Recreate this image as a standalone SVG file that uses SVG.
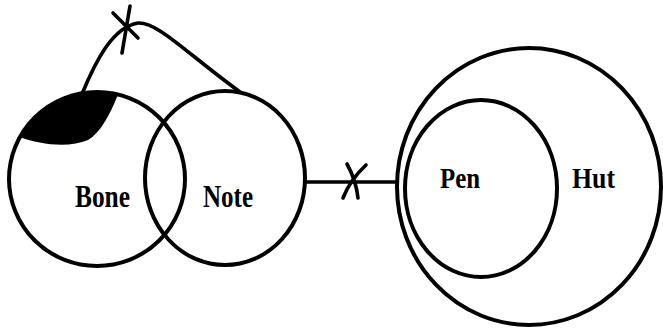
<svg xmlns="http://www.w3.org/2000/svg" width="663" height="331" viewBox="0 0 663 331">
<style>
.c{fill:none;stroke:#000;stroke-width:4}
.l{fill:none;stroke:#000;stroke-width:3.6;stroke-linecap:round}
.t{font-family:"Liberation Serif","Times New Roman",serif;font-weight:bold;fill:#000}
</style>
<rect width="663" height="331" fill="#fff"/>
<g id="bone">
<path d="M20,137 C40,145 70,148 88,140 C100,133 110,115 118,94.5 A88 87 0 0 0 20,137 Z" fill="#000"/>
<ellipse class="c" cx="97" cy="179" rx="88" ry="87"/>
<text class="t" x="75" y="207" font-size="32" textLength="55" lengthAdjust="spacingAndGlyphs">Bone</text>
</g>
<g id="note">
<ellipse class="c" cx="225" cy="178" rx="80" ry="87"/>
<text class="t" x="203" y="207" font-size="32" textLength="50" lengthAdjust="spacingAndGlyphs">Note</text>
</g>
<g id="hut">
<ellipse class="c" cx="529" cy="186.5" rx="132" ry="138.5"/>
<text class="t" x="572" y="188" font-size="30" textLength="43" lengthAdjust="spacingAndGlyphs">Hut</text>
</g>
<g id="pen">
<ellipse class="c" cx="481" cy="188.5" rx="76" ry="88.5"/>
<text class="t" x="440" y="188" font-size="30" textLength="40" lengthAdjust="spacingAndGlyphs">Pen</text>
</g>
<g id="connectors">
<path class="l" d="M82,94 C96,60 113,27 138,23 C158,22 185,52 240,92"/>
<path class="l" d="M113,13 L138,38 M130,6 L122,53"/>
<path class="l" d="M305,182 H397"/>
<path class="l" d="M347,164 Q356,180 358,198 M366,165 Q350,180 343,198"/>
</g>
</svg>
